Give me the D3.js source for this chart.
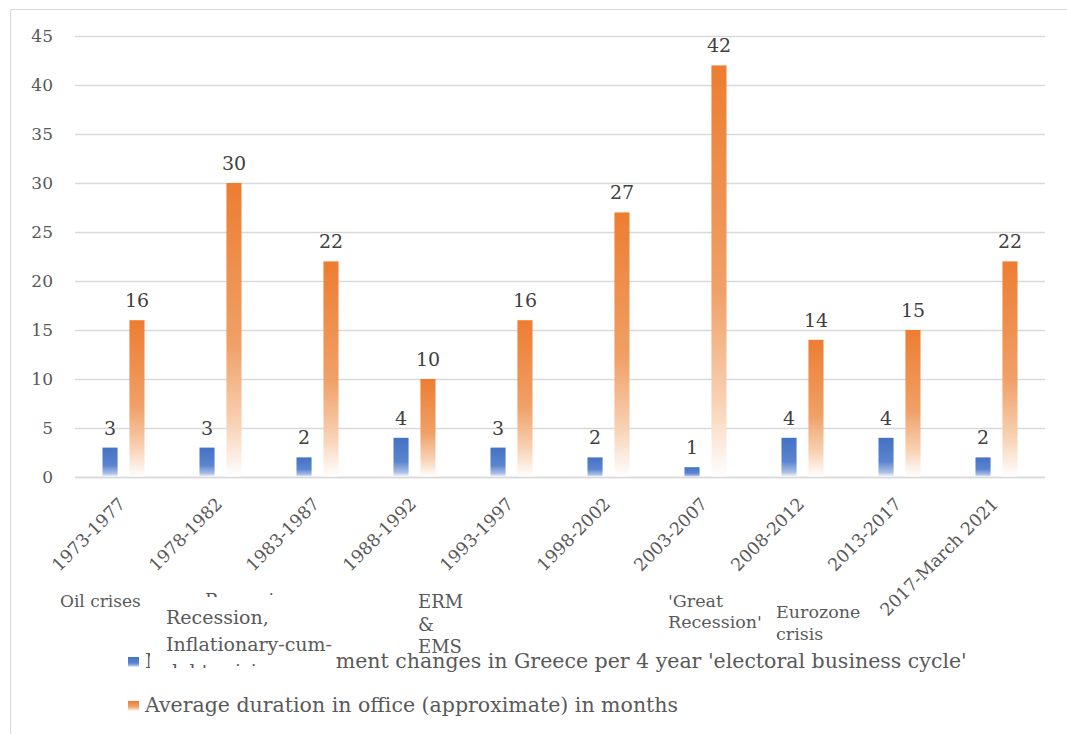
<!DOCTYPE html>
<html>
<head>
<meta charset="utf-8">
<script src="https://cdn.jsdelivr.net/npm/d3@7"></script>
<style>
    body { margin: 0; background: #fff; }
    text { font-family: "DejaVu Serif", "Liberation Serif", serif; }
</style>
</head>
<body>
<div id="chart"></div>
<script>
// Data
const periods = ["1973-1977", "1978-1982", "1983-1987", "1988-1992", "1993-1997",
    "1998-2002", "2003-2007", "2008-2012", "2013-2017", "2017-March 2021"];
const govChanges = [3, 3, 2, 4, 3, 2, 1, 4, 4, 2];
const avgDuration = [16, 30, 22, 10, 16, 27, 42, 14, 15, 22];
const yTicks = [0, 5, 10, 15, 20, 25, 30, 35, 40, 45];
const seriesNames = [
    "Number of government changes in Greece per 4 year 'electoral business cycle'",
    "Average duration in office (approximate) in months"
];

const width = 1067, height = 734;
const plot = { left: 75, right: 1045, top: 36, bottom: 477 };

const svg = d3.select("#chart").append("svg")
    .attr("width", width)
    .attr("height", height);

// outer chart frame (cut off at right / bottom in the reference)
svg.append("rect")
    .attr("x", 10.5).attr("y", 9.5)
    .attr("width", 1080).attr("height", 760)
    .attr("fill", "#fff")
    .attr("stroke", "#d9d9d9");

// gradients: solid on top, fading to white at the bottom of each bar
const defs = svg.append("defs");
function makeGradient(id, stops) {
    const g = defs.append("linearGradient")
        .attr("id", id)
        .attr("x1", 0).attr("y1", 0).attr("x2", 0).attr("y2", 1);
    stops.forEach(s => g.append("stop").attr("offset", s[0]).attr("stop-color", s[1]));
}
makeGradient("gradBlue", [[0, "#4472C4"], [0.6, "#5A84CE"], [0.88, "#A9BFE6"], [1, "#ffffff"]]);
makeGradient("gradOrange", [[0, "#ED7D31"], [0.55, "#F0A067"], [0.82, "#F8D2B5"], [1, "#ffffff"]]);

// scales
const x0 = d3.scaleBand()
    .domain(periods)
    .range([plot.left, plot.right])
    .padding(0);

const x1 = d3.scaleBand()
    .domain([0, 1])
    .range([0, x0.bandwidth()])
    .paddingInner(0.44)
    .paddingOuter(1.02);

const y = d3.scaleLinear()
    .domain([0, 45])
    .range([plot.bottom, plot.top]);

// gridlines + y labels
const yAxis = d3.axisLeft(y)
    .tickValues(yTicks)
    .tickSize(-(plot.right - plot.left))
    .tickPadding(22);

svg.append("g")
    .attr("class", "y-axis")
    .attr("transform", `translate(${plot.left},0)`)
    .call(yAxis)
    .call(g => g.select(".domain").remove())
    .call(g => g.selectAll("line").attr("stroke", "#d9d9d9").attr("stroke-width", 1.3))
    .call(g => g.selectAll("text")
        .attr("fill", "#595959")
        .style("font-size", "17px")
        .style("font-family", "'DejaVu Serif', serif"));

// bars
const rows = periods.map((p, i) => ({ period: p, values: [govChanges[i], avgDuration[i]] }));
const fills = ["url(#gradBlue)", "url(#gradOrange)"];

const groups = svg.selectAll(".group")
    .data(rows)
    .join("g")
    .attr("class", "group")
    .attr("transform", d => `translate(${x0(d.period)},0)`);

groups.selectAll("rect")
    .data(d => d.values.map((v, k) => ({ k, v })))
    .join("rect")
    .attr("x", d => x1(d.k))
    .attr("y", d => y(d.v))
    .attr("width", x1.bandwidth())
    .attr("height", d => y(0) - y(d.v))
    .attr("fill", d => fills[d.k]);

// data labels
groups.selectAll(".val")
    .data(d => d.values.map((v, k) => ({ k, v })))
    .join("text")
    .attr("class", "val")
    .attr("x", d => x1(d.k) + x1.bandwidth() / 2)
    .attr("y", d => y(d.v) - 13)
    .attr("text-anchor", "middle")
    .attr("fill", "#404040")
    .style("font-size", "19px")
    .text(d => d.v);

// x baseline
svg.append("line")
    .attr("x1", plot.left).attr("x2", plot.right)
    .attr("y1", y(0) + 0.5).attr("y2", y(0) + 0.5)
    .attr("stroke", "#d9d9d9")
    .attr("stroke-width", 1.5);

// rotated category labels
svg.selectAll(".xlab")
    .data(periods)
    .join("text")
    .attr("class", "xlab")
    .attr("transform", d => `translate(${x0(d) + x0.bandwidth() / 2 + 3},505) rotate(-45)`)
    .attr("text-anchor", "end")
    .attr("fill", "#595959")
    .style("font-size", "17.5px")
    .text(d => d);

// free text boxes under the axis
function textBox(lines, xPos, yPos, lineH, size) {
    const t = svg.append("text")
        .attr("fill", "#595959")
        .style("font-size", size + "px");
    lines.forEach((l, i) => t.append("tspan")
        .attr("x", xPos)
        .attr("y", yPos + i * lineH)
        .text(l));
    return t;
}

textBox(["Oil crises"], 60, 607, 22, 17);
textBox(["Recession"], 205, 607, 22, 18);
textBox(["ERM", "&", "EMS"], 418, 608, 22.5, 18);
textBox(["'Great", "Recession'"], 668, 607, 21, 17.5);
textBox(["Eurozone", "crisis"], 776, 618, 22, 17.5);

// legend
const legend = svg.append("g").attr("class", "legend");
const legendRows = [
    { name: seriesNames[0], fill: fills[0], y: 668 },
    { name: seriesNames[1], fill: fills[1], y: 712 }
];
legendRows.forEach(r => {
    legend.append("rect")
        .attr("x", 128).attr("y", r.y - 11)
        .attr("width", 11).attr("height", 10)
        .attr("fill", r.fill);
    legend.append("text")
        .attr("x", 145).attr("y", r.y)
        .attr("fill", "#595959")
        .style("font-size", "20.5px")
        .text(r.name);
});

// white text box that overlaps the legend (as in the reference)
svg.append("rect")
    .attr("x", 150).attr("y", 597)
    .attr("width", 186).attr("height", 80)
    .attr("fill", "#fff");

defs.append("clipPath")
    .attr("id", "boxClip")
    .append("rect")
    .attr("x", 150).attr("y", 597)
    .attr("width", 200).attr("height", 71);

textBox(["Recession,", "Inflationary-cum-", "debt crisis"], 166, 624, 27, 19)
    .attr("clip-path", "url(#boxClip)");
</script>
</body>
</html>
